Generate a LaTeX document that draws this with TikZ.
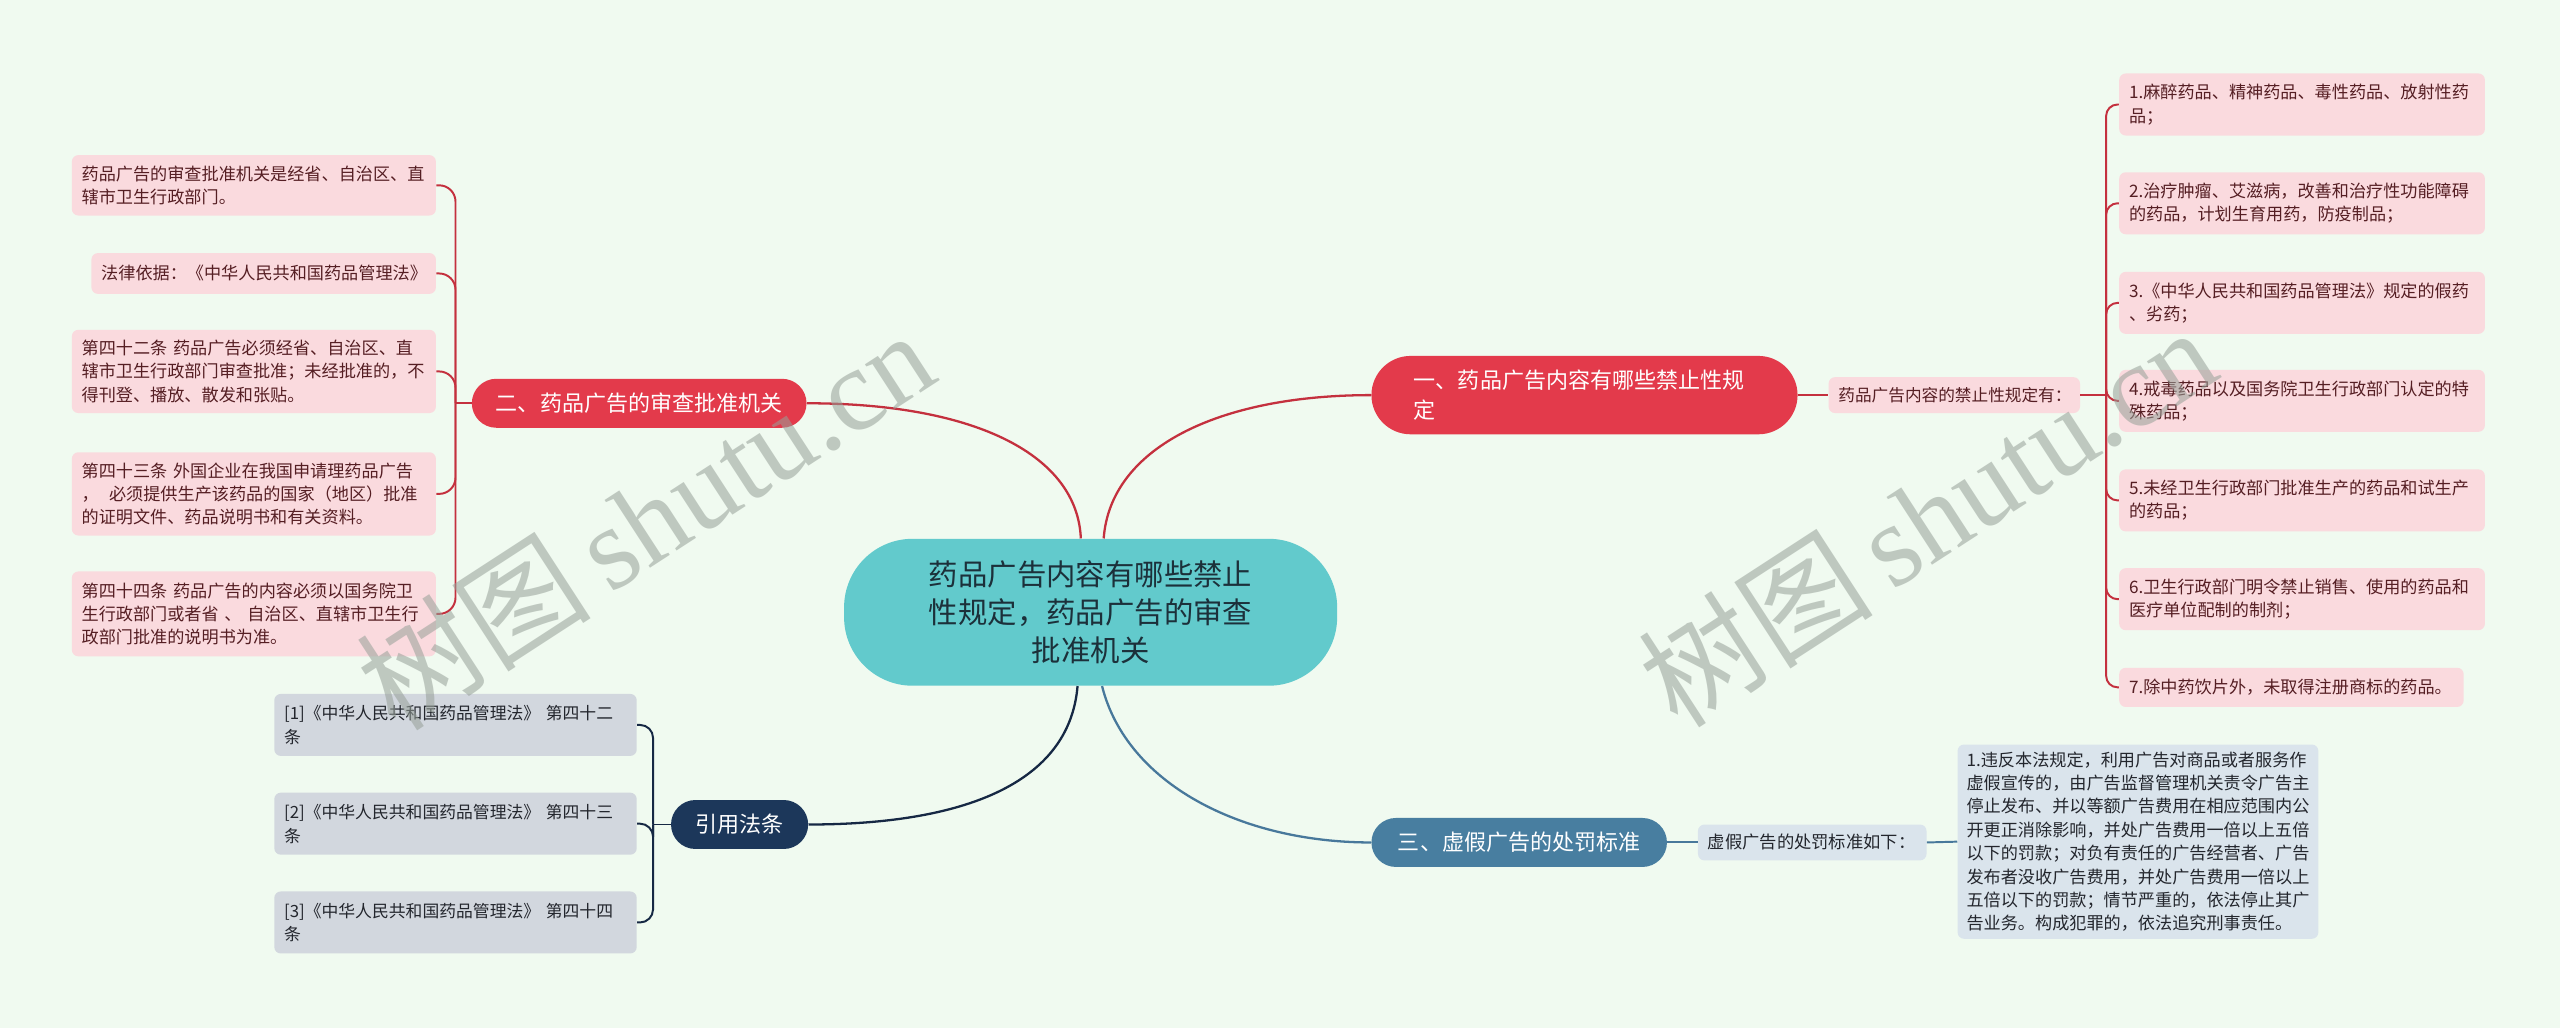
\documentclass[tikz,border=0pt]{standalone}
\usepackage{fontspec}
\setmainfont{Noto Sans CJK SC}
\newfontfamily\wmserif{Liberation Serif}
\usetikzlibrary{calc}
\definecolor{bgc}{RGB}{240,250,240}
\definecolor{redn}{RGB}{227,58,75}
\definecolor{redl}{RGB}{196,48,62}
\definecolor{pinkf}{RGB}{250,218,222}
\definecolor{pinkt}{RGB}{85,30,35}
\definecolor{tealf}{RGB}{98,202,204}
\definecolor{tealt}{RGB}{28,48,58}
\definecolor{bluen}{RGB}{72,126,160}
\definecolor{bluel}{RGB}{72,120,155}
\definecolor{bluef}{RGB}{218,228,236}
\definecolor{navyn}{RGB}{28,55,90}
\definecolor{navyl}{RGB}{22,40,68}
\definecolor{grayf}{RGB}{210,215,222}
\definecolor{darkt}{RGB}{35,38,45}
\definecolor{wmc}{RGB}{150,160,152}
\tikzset{
  mainnode/.style={rectangle, text=white, font=\fontsize{13.5}{18}\selectfont, inner sep=0pt, align=center},
  leafbox/.style={rectangle, rounded corners=4pt, inner xsep=6pt, inner ysep=0pt, align=left, font=\fontsize{10.5}{14.3}\selectfont},
  pinkleaf/.style={leafbox, fill=pinkf, text=pinkt},
  grayleaf/.style={leafbox, fill=grayf, text=darkt},
  blueleaf/.style={leafbox, fill=bluef, text=darkt},
  redline/.style={draw=redl, line width=1.2pt},
  navyline/.style={draw=navyl, line width=1.2pt},
  blueline/.style={draw=bluel, line width=1.2pt},
  watermark/.style={rotate=33, text=wmc, opacity=0.55, font=\fontsize{72}{72}\selectfont, inner sep=0pt}
}
\begin{document}
\begin{tikzpicture}[x=1pt,y=-1pt]
\useasboundingbox (0,0) rectangle (1568,629.7);
\fill[bgc] (0,0) rectangle (1568,629.7);

% central
\node[mainnode, fill=tealf, text=tealt, minimum width=302pt, minimum height=90pt, rounded corners=42pt, font=\fontsize{18}{23.5}\selectfont] (c) at (668,375) {药品广告内容有哪些禁止\\性规定，药品广告的审查\\批准机关};

% main branches
\node[mainnode, fill=redn, minimum height=48pt, rounded corners=24pt, text width=209pt, inner xsep=26pt, align=left] (n1) at (970.5,242) {一、药品广告内容有哪些禁止性规\\定};
\node[mainnode, fill=redn, minimum width=205pt, minimum height=30pt, rounded corners=15pt] (n2) at (391.5,247) {二、药品广告的审查批准机关};
\node[mainnode, fill=bluen, minimum width=181pt, minimum height=30pt, rounded corners=15pt] (n3) at (930.5,516) {三、虚假广告的处罚标准};
\node[mainnode, fill=navyn, minimum width=84pt, minimum height=30pt, rounded corners=15pt] (n4) at (453,505) {引用法条};

% branch one
\node[pinkleaf, text width=142pt, minimum height=22pt, font=\fontsize{10.2}{14}\selectfont] (s1) at (1197,242) {药品广告内容的禁止性规定有：};
\node[pinkleaf, text width=212pt, minimum height=38pt] (r1) at (1410,64) {1.麻醉药品、精神药品、毒性药品、放射性药\\品；};
\node[pinkleaf, text width=212pt, minimum height=38pt] (r2) at (1410,124.5) {2.治疗肿瘤、艾滋病，改善和治疗性功能障碍\\的药品，计划生育用药，防疫制品；};
\node[pinkleaf, text width=212pt, minimum height=38pt] (r3) at (1410,185.5) {3.《中华人民共和国药品管理法》规定的假药\\、劣药；};
\node[pinkleaf, text width=212pt, minimum height=38pt] (r4) at (1410,245.5) {4.戒毒药品以及国务院卫生行政部门认定的特\\殊药品；};
\node[pinkleaf, text width=212pt, minimum height=38pt] (r5) at (1410,306.5) {5.未经卫生行政部门批准生产的药品和试生产\\的药品；};
\node[pinkleaf, text width=212pt, minimum height=38pt] (r6) at (1410,367) {6.卫生行政部门明令禁止销售、使用的药品和\\医疗单位配制的制剂；};
\node[pinkleaf, text width=199pt, minimum height=24pt] (r7) at (1403.5,421) {7.除中药饮片外，未取得注册商标的药品。};

% branch two
\node[pinkleaf, text width=211pt, minimum height=37pt] (l1) at (155.5,113.5) {药品广告的审查批准机关是经省、自治区、直\\辖市卫生行政部门。};
\node[pinkleaf, text width=199pt, minimum height=25pt] (l2) at (161.5,167.5) {法律依据：《中华人民共和国药品管理法》};
\node[pinkleaf, text width=211pt, minimum height=51pt] (l3) at (155.5,227.5) {第四十二条~药品广告必须经省、自治区、直\\辖市卫生行政部门审查批准；未经批准的，不\\得刊登、播放、散发和张贴。};
\node[pinkleaf, text width=211pt, minimum height=51pt] (l4) at (155.5,302.5) {第四十三条~外国企业在我国申请理药品广告\\，\hspace{0.6em}必须提供生产该药品的国家（地区）批准\\的证明文件、药品说明书和有关资料。};
\node[pinkleaf, text width=211pt, minimum height=52pt] (l5) at (155.5,376) {第四十四条~药品广告的内容必须以国务院卫\\生行政部门或者省~、~自治区、直辖市卫生行\\政部门批准的说明书为准。};

% branch three
\node[blueleaf, text width=128pt, minimum height=22pt, font=\fontsize{10.6}{14}\selectfont] (s3) at (1110,516) {虚假广告的处罚标准如下：};
\node[blueleaf, text width=210pt, inner xsep=5.5pt, minimum height=119pt] (b) at (1309.5,515.5) {1.违反本法规定，利用广告对商品或者服务作\\虚假宣传的，由广告监督管理机关责令广告主\\停止发布、并以等额广告费用在相应范围内公\\开更正消除影响，并处广告费用一倍以上五倍\\以下的罚款；对负有责任的广告经营者、广告\\发布者没收广告费用，并处广告费用一倍以上\\五倍以下的罚款；情节严重的，依法停止其广\\告业务。构成犯罪的，依法追究刑事责任。};

% references
\node[grayleaf, text width=210pt, minimum height=38pt, font=\fontsize{10.3}{14.5}\selectfont] (g1) at (279,444) {[1]《中华人民共和国药品管理法》~第四十二\\条};
\node[grayleaf, text width=210pt, minimum height=38pt, font=\fontsize{10.3}{14.5}\selectfont] (g2) at (279,504.5) {[2]《中华人民共和国药品管理法》~第四十三\\条};
\node[grayleaf, text width=210pt, minimum height=38pt, font=\fontsize{10.3}{14.5}\selectfont] (g3) at (279,565) {[3]《中华人民共和国药品管理法》~第四十四\\条};

% central connectors
\draw[redline, line width=1.4pt] (n2.east) .. controls (600,247) and (660,280) .. ([xshift=-6pt]c.north);
\draw[redline, line width=1.4pt] ([xshift=8pt]c.north) .. controls (680,275) and (745,242) .. (n1.west);
\draw[navyline, line width=1.4pt] ([xshift=-8pt]c.south) .. controls (655,480) and (590,505) .. (n4.east);
\draw[blueline, line width=1.4pt] ([xshift=7pt]c.south) .. controls (690,480) and (760,516) .. (n3.west);

% branch one connectors
\coordinate (jr) at (1290,242);
\draw[redline] (n1.east) -- (s1.west);
\draw[redline] (s1.east) -- (jr);
\foreach \n in {r1,r2,r3,r4,r5,r6,r7} \draw[redline, rounded corners=7pt] (jr) |- (\n.west);

% branch two connectors
\coordinate (jl) at (279,247);
\draw[redline] (n2.west) -- (jl);
\foreach \n in {l1,l2,l3,l4,l5} \draw[redline, rounded corners=10pt] (jl) |- (\n.east);

% branch three connectors
\draw[blueline] (n3.east) -- (s3.west);
\draw[blueline] (s3.east) -- (b.west);

% reference connectors
\coordinate (jg) at (400,505);
\draw[navyline] (n4.west) -- (jg);
\foreach \n in {g1,g2,g3} \draw[navyline, rounded corners=8pt] (jg) |- (\n.east);

% watermarks
\node[watermark] (w1) at (395,318) {树图\,{\wmserif shutu.cn}};
\node[watermark] (w2) at (1180,316) {树图\,{\wmserif shutu.cn}};
\end{tikzpicture}
\end{document}
